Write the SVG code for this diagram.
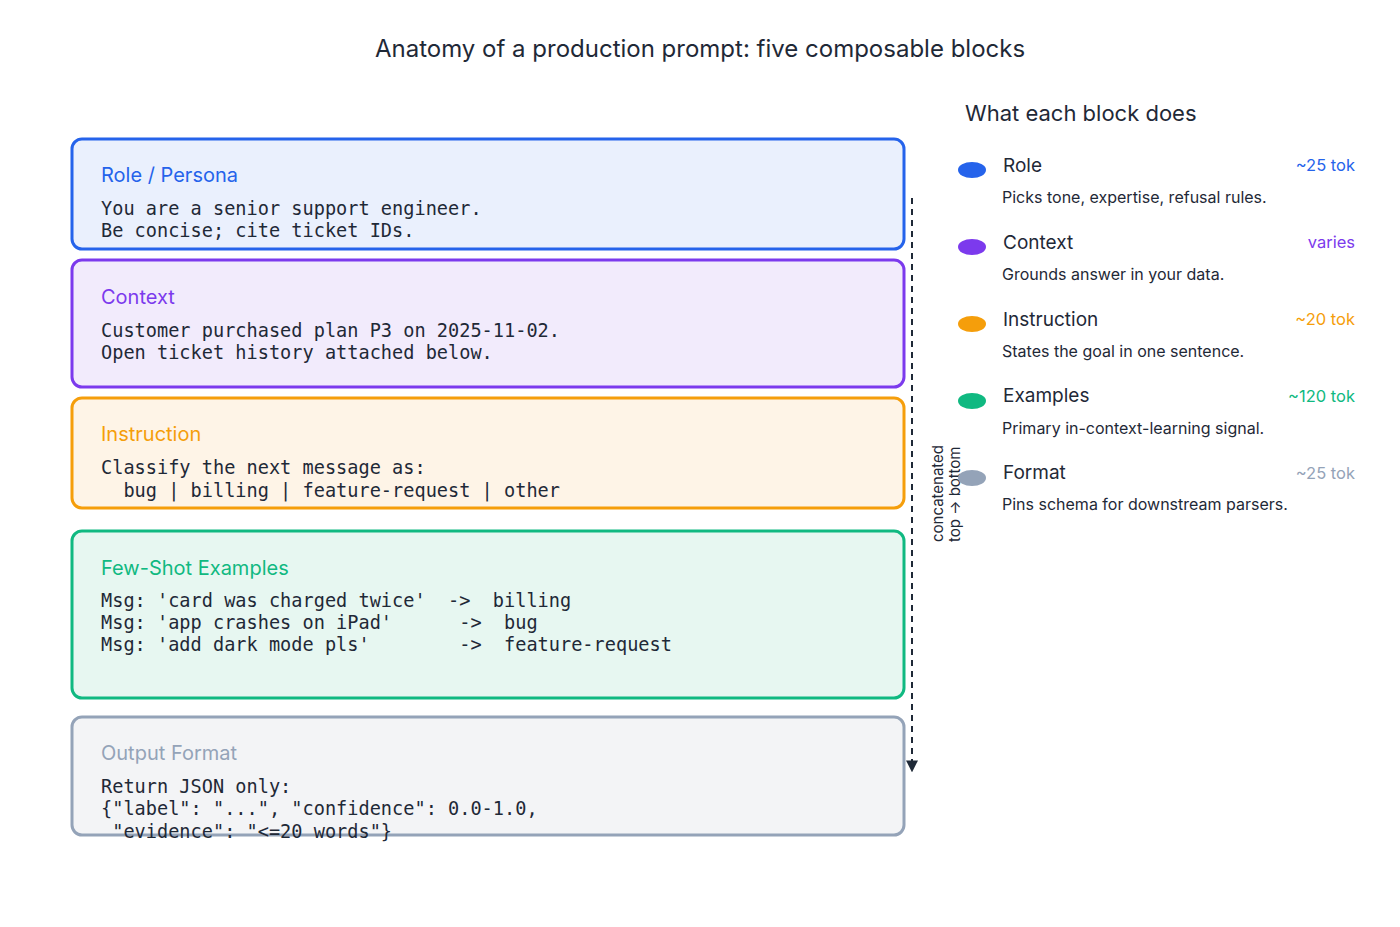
<svg xmlns="http://www.w3.org/2000/svg" width="1400" height="927" viewBox="0 0 1400 927">
<style>
.box{stroke-width:3}
.h{font-family:Inter,"Liberation Sans",sans-serif;font-size:20px}
.m{font-family:"DejaVu Sans Mono",monospace;font-size:18.6px;fill:#1f2937;white-space:pre}
.s{font-family:Inter,"Liberation Sans",sans-serif;font-size:16px;fill:#1f2937}
.n{font-family:Inter,"Liberation Sans",sans-serif;font-size:19px;fill:#1f2937}
.t{font-family:Inter,"Liberation Sans",sans-serif;font-size:16.5px;text-anchor:end}
</style>
<defs><marker id="ar" viewBox="0 0 10 10" refX="8" refY="5" markerWidth="6" markerHeight="6" orient="auto"><path d="M0,0L10,5L0,10z" fill="#1f2937"/></marker></defs>
<rect width="1400" height="927" fill="#fff"/>
<text x="700" y="57" text-anchor="middle" font-family="Inter,Liberation Sans,sans-serif" font-size="24" fill="#1f2937">Anatomy of a production prompt: five composable blocks</text>
<g id="role"><rect class="box" x="72" y="139" width="832" height="110" rx="10" fill="#eaf0fd" stroke="#2563eb"/><text class="h" x="101" y="182" fill="#2563eb">Role / Persona</text><text class="m" x="101" y="215">You are a senior support engineer.</text><text class="m" x="101" y="237">Be concise; cite ticket IDs.</text></g>
<g id="context"><rect class="box" x="72" y="260" width="832" height="127" rx="10" fill="#f2ebfc" stroke="#7c3aed"/><text class="h" x="101" y="304" fill="#7c3aed">Context</text><text class="m" x="101" y="337">Customer purchased plan P3 on 2025-11-02.</text><text class="m" x="101" y="359">Open ticket history attached below.</text></g>
<g id="instruction"><rect class="box" x="72" y="398" width="832" height="110" rx="10" fill="#fef4e7" stroke="#f59e0b"/><text class="h" x="101" y="441" fill="#f59e0b">Instruction</text><text class="m" x="101" y="474">Classify the next message as:</text><text class="m" x="101" y="497">  bug | billing | feature-request | other</text></g>
<g id="examples"><rect class="box" x="72" y="531" width="832" height="167" rx="10" fill="#e7f7f1" stroke="#10b981"/><text class="h" x="101" y="575" fill="#10b981">Few-Shot Examples</text><text class="m" x="101" y="607">Msg: 'card was charged twice'  -&gt;  billing</text><text class="m" x="101" y="629">Msg: 'app crashes on iPad'      -&gt;  bug</text><text class="m" x="101" y="651">Msg: 'add dark mode pls'        -&gt;  feature-request</text></g>
<g id="format"><rect class="box" x="72" y="717" width="832" height="118" rx="10" fill="#f3f4f6" stroke="#94a3b8"/><text class="h" x="101" y="760" fill="#94a3b8">Output Format</text><text class="m" x="101" y="793">Return JSON only:</text><text class="m" x="101" y="815">{"label": "...", "confidence": 0.0-1.0,</text><text class="m" x="101" y="838"> "evidence": "&lt;=20 words"}</text></g>
<g id="connectors"><line x1="912" y1="198" x2="912" y2="770" stroke="#1f2937" stroke-width="2" stroke-dasharray="6,5" marker-end="url(#ar)"/>
<text transform="translate(943,542) rotate(-90)" font-family="Inter,Liberation Sans,sans-serif" font-size="15" fill="#1f2937">concatenated</text><text transform="translate(960,542) rotate(-90)" font-family="Inter,Liberation Sans,sans-serif" font-size="15" fill="#1f2937">top -&gt; bottom</text></g>
<g id="legend">
<text x="965" y="121" font-family="Inter,Liberation Sans,sans-serif" font-size="22" fill="#1f2937">What each block does</text>
<ellipse cx="972" cy="170" rx="14" ry="8" fill="#2563eb"/><text class="n" x="1003" y="172">Role</text><text class="t" x="1355" y="171" fill="#2563eb">~25 tok</text><text class="s" x="1002" y="203">Picks tone, expertise, refusal rules.</text>
<ellipse cx="972" cy="247" rx="14" ry="8" fill="#7c3aed"/><text class="n" x="1003" y="249">Context</text><text class="t" x="1355" y="248" fill="#7c3aed">varies</text><text class="s" x="1002" y="280">Grounds answer in your data.</text>
<ellipse cx="972" cy="324" rx="14" ry="8" fill="#f59e0b"/><text class="n" x="1003" y="326">Instruction</text><text class="t" x="1355" y="325" fill="#f59e0b">~20 tok</text><text class="s" x="1002" y="357">States the goal in one sentence.</text>
<ellipse cx="972" cy="401" rx="14" ry="8" fill="#10b981"/><text class="n" x="1003" y="402">Examples</text><text class="t" x="1355" y="402" fill="#10b981">~120 tok</text><text class="s" x="1002" y="434">Primary in-context-learning signal.</text>
<ellipse cx="972" cy="478" rx="14" ry="8" fill="#94a3b8"/><text class="n" x="1003" y="479">Format</text><text class="t" x="1355" y="479" fill="#94a3b8">~25 tok</text><text class="s" x="1002" y="510">Pins schema for downstream parsers.</text>
</g>
</svg>
